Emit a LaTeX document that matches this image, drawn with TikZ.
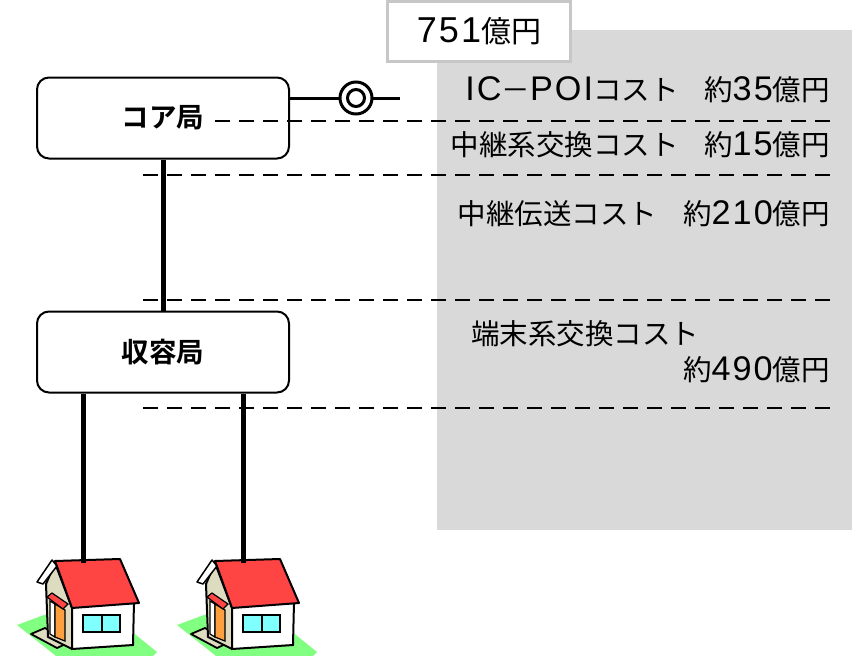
\documentclass[tikz,border=0pt]{standalone}
\usepackage{fontspec}
\setmainfont{Noto Sans CJK JP}
\newfontfamily\jpbold{Noto Sans CJK JP Bold}
\newfontfamily\lat[Scale=1.2,LetterSpace=6]{Liberation Sans}
\newcommand{\latn}[1]{{\lat #1}}
\begin{document}
\begin{tikzpicture}[x=1pt,y=-1pt,
  office/.style={draw=black,line width=2pt,rounded corners=12pt,fill=white,
    minimum width=252pt,minimum height=81pt,font=\jpbold\fontsize{27.5}{30}\selectfont},
  link/.style={line width=5pt,black},
  border/.style={line width=2.6pt,dash pattern=on 15pt off 9pt},
  cost/.style={font=\fontsize{28.5}{32}\selectfont,inner sep=0pt},
  total/.style={draw=black!22,line width=3pt,fill=white,minimum width=183pt,
    minimum height=60pt,font=\fontsize{30}{34}\selectfont}]
\definecolor{panel}{HTML}{D9D9D9}
\definecolor{roof}{HTML}{FF4444}
\definecolor{wall}{HTML}{DDDBC0}
\definecolor{door}{HTML}{FFA040}
\definecolor{glass}{HTML}{80FFFF}
\definecolor{lawn}{HTML}{80FF80}
\tikzset{house/.pic={
  % lawn
  \fill[lawn] (17,625) -- (90,598) -- (157,652) -- (153,656) -- (56,656) -- cycle;
  % door step
  \filldraw[fill=wall,draw=black,line width=1.8pt,line join=round]
    (31,634) -- (45,628) -- (70,642) -- (57,648) -- cycle;
  % gable side wall
  \filldraw[fill=wall,draw=black,line width=2pt,line join=round]
    (55,563) -- (72,608) -- (72,649) -- (48,637) -- (46,584) -- cycle;
  % white fascia on the gable
  \filldraw[fill=white,draw=black,line width=1.5pt,line join=round]
    (52,560) -- (57,566) -- (43,584) -- (37,582) -- cycle;
  % door, its post and awning
  \filldraw[fill=white,draw=black,line width=1.2pt] (50,601) -- (55,604) -- (55,637) -- (50,634) -- cycle;
  \filldraw[fill=door,draw=black,line width=1.2pt] (55,604) -- (65,610) -- (65,641) -- (55,637) -- cycle;
  \filldraw[fill=roof,draw=black,line width=1.2pt] (47,597) -- (52,593) -- (68,604) -- (63,609) -- cycle;
  % front wall
  \filldraw[fill=white,draw=black,line width=2pt] (72,606) -- (134,602) -- (133,645) -- (72,649) -- cycle;
  % window
  \filldraw[fill=glass,draw=black,line width=1.5pt] (83,615) rectangle (120,632);
  \draw[line width=1.2pt] (102,615) -- (102,632);
  % roof
  \filldraw[fill=roof,draw=black,line width=2pt,line join=round]
    (55,561) -- (120,559) -- (139,603) -- (72,608) -- cycle;
}}
\useasboundingbox (0,0) rectangle (852,656);
% cost panel
\fill[panel] (437,30) rectangle (852,530);
\node[total] (sum) at (479,31) {\latn{751}億円};
% offices
\node[office] (core) at (163,118) {コア局};
\node[office] (local) at (163,352) {収容局};
% interconnection point
\coordinate (poi) at (356,98);
\coordinate (poiend) at (400,98);
\draw[line width=3pt] (core.east |- poi) -- (poi);
\draw[line width=3pt] (poi) -- (poiend);
\draw[line width=3pt,fill=white] (poi) circle (16pt);
\draw[line width=3pt] (poi) circle (8.5pt);
% houses
\pic at (0,0) {house};
\pic at (160,0) {house};
\coordinate (h1) at (83,563);
\coordinate (h2) at (243,563);
% links
\draw[link] (core) -- (local);
\draw[link] (local.south -| h1) -- (h1);
\draw[link] (local.south -| h2) -- (h2);
% cost section borders
\draw[border] (215,121) -- (830,121);
\draw[border] (143,175) -- (830,175);
\draw[border] (143,300) -- (830,300);
\draw[border] (143,408) -- (830,408);
% cost labels
\node[cost,anchor=east] (c1) at (830,90) {\latn{IC}－\latn{POI}コスト\hspace{0.9em}約\latn{35}億円};
\node[cost,anchor=east] (c2) at (830,145) {中継系交換コスト\hspace{0.9em}約\latn{15}億円};
\node[cost,anchor=east] (c3) at (830,214) {中継伝送コスト\hspace{0.9em}約\latn{210}億円};
\node[cost,anchor=west] (c4) at (471,334) {端末系交換コスト};
\node[cost,anchor=east] (c5) at (830,370) {約\latn{490}億円};
\end{tikzpicture}
\end{document}
